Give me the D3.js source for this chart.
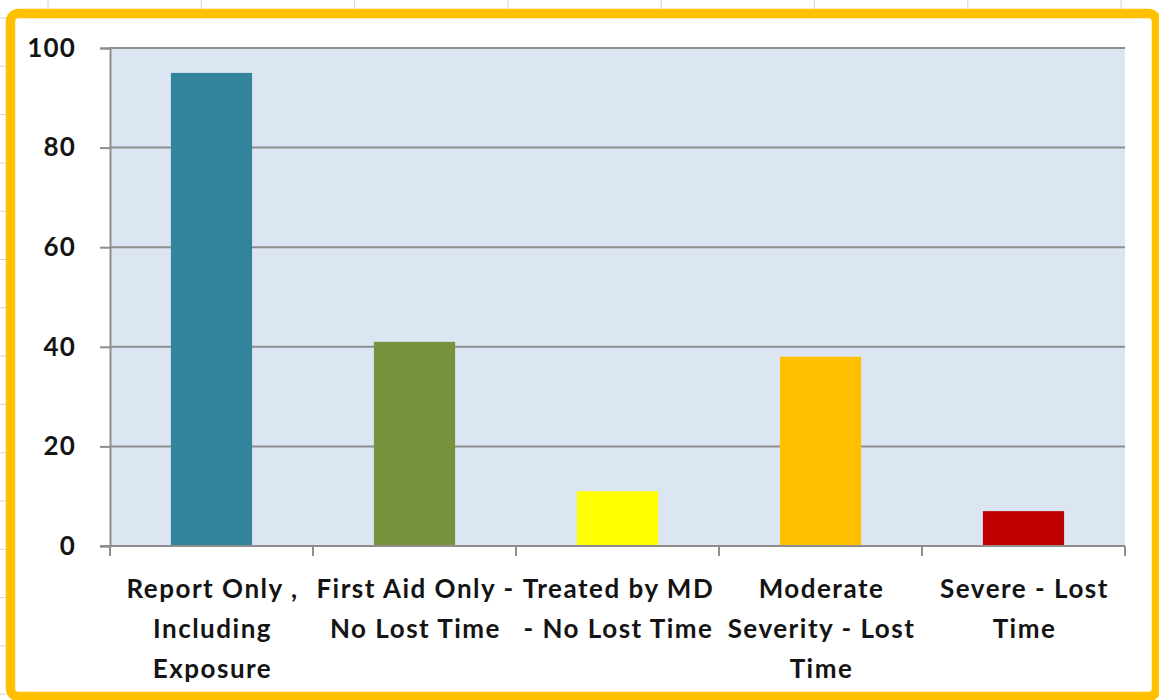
<!DOCTYPE html>
<html>
<head>
<meta charset="utf-8">
<script src="https://cdn.jsdelivr.net/npm/d3@7"></script>
<style>
  html, body { margin: 0; padding: 0; background: #ffffff; }
  svg { display: block; }
  text { font-family: Lato, "Open Sans", sans-serif; font-weight: 700; fill: #141414; }
</style>
</head>
<body>
<svg id="chart" width="1159" height="700"></svg>
<script>
// Injury counts by severity category
const categories = [
  "Report Only , Including Exposure",
  "First Aid Only - No Lost Time",
  "Treated by MD - No Lost Time",
  "Moderate Severity - Lost Time",
  "Severe - Lost Time"
];
const labelLines = [
  ["Report Only ,", "Including", "Exposure"],
  ["First Aid Only -", "No Lost Time"],
  ["Treated by MD", "- No Lost Time"],
  ["Moderate", "Severity - Lost", "Time"],
  ["Severe - Lost", "Time"]
];
const values = [95, 41, 11, 38, 7];
const barColors = ["#31849B", "#77933C", "#FFFF00", "#FFC000", "#C00000"];
const yTicks = [0, 20, 40, 60, 80, 100];

const W = 1159, H = 700;
const svg = d3.select("#chart");

// Faint sheet gridlines peeking out around the frame
const sheet = svg.append("g").attr("stroke", "#d4d4d4").attr("stroke-width", 1);
d3.range(48, W, 153.3).forEach(x => {
  sheet.append("line").attr("x1", x).attr("x2", x).attr("y1", 0).attr("y2", 10);
});
d3.range(18, H, 48.3).forEach(y => {
  sheet.append("line").attr("x1", 0).attr("x2", 6).attr("y1", y).attr("y2", y);
});

// Chart frame
svg.append("rect")
  .attr("x", 10.5).attr("y", 13.5)
  .attr("width", 1146).attr("height", 683)
  .attr("rx", 8).attr("ry", 8)
  .attr("fill", "#ffffff")
  .attr("stroke", "#FFC000")
  .attr("stroke-width", 9.5);

const plot = { left: 110, right: 1125, top: 48, bottom: 546 };

const x = d3.scaleBand()
  .domain(categories)
  .range([plot.left, plot.right])
  .paddingInner(0.6)
  .paddingOuter(0.3);

const y = d3.scaleLinear()
  .domain([0, 100])
  .range([plot.bottom, plot.top]);

// Plot area background
svg.append("rect")
  .attr("x", plot.left).attr("y", plot.top)
  .attr("width", plot.right - plot.left)
  .attr("height", plot.bottom - plot.top)
  .attr("fill", "#DCE6F2");

// Horizontal gridlines
svg.append("g")
  .selectAll("line")
  .data(yTicks.filter(d => d > 0))
  .join("line")
  .attr("x1", plot.left).attr("x2", plot.right)
  .attr("y1", d => y(d)).attr("y2", d => y(d))
  .attr("stroke", "#8e8e8e")
  .attr("stroke-width", 2);

// Bars
svg.append("g")
  .selectAll("rect")
  .data(values)
  .join("rect")
  .attr("x", (d, i) => x(categories[i]))
  .attr("width", x.bandwidth())
  .attr("y", d => y(d))
  .attr("height", d => y(0) - y(d))
  .attr("fill", (d, i) => barColors[i]);

// Y axis
const yAxis = svg.append("g")
  .attr("transform", `translate(${plot.left},0)`)
  .call(d3.axisLeft(y).tickValues(yTicks).tickSize(10).tickPadding(24));
yAxis.select(".domain").attr("stroke", "#8e8e8e").attr("stroke-width", 2);
yAxis.selectAll(".tick line").attr("stroke", "#8e8e8e").attr("stroke-width", 2);
yAxis.selectAll(".tick text")
  .style("font-size", "26px")
  .style("letter-spacing", "1.2px")
  .attr("fill", "#141414");

// X axis with ticks between categories
const step = (plot.right - plot.left) / categories.length;
const xAxisG = svg.append("g");
xAxisG.append("line")
  .attr("x1", plot.left - 10).attr("x2", plot.right)
  .attr("y1", plot.bottom).attr("y2", plot.bottom)
  .attr("stroke", "#8e8e8e").attr("stroke-width", 2);
xAxisG.selectAll("line.tick")
  .data(d3.range(categories.length + 1))
  .join("line")
  .attr("class", "tick")
  .attr("x1", i => plot.left + i * step).attr("x2", i => plot.left + i * step)
  .attr("y1", plot.bottom).attr("y2", plot.bottom + 10)
  .attr("stroke", "#8e8e8e").attr("stroke-width", 2);

// Category labels
const lbl = svg.append("g");
categories.forEach((c, i) => {
  const cx = x(c) + x.bandwidth() / 2 + 1;
  const t = lbl.append("text")
    .attr("text-anchor", "middle")
    .style("font-size", "26px")
    .style("letter-spacing", "1.5px");
  labelLines[i].forEach((line, j) => {
    t.append("tspan")
      .attr("x", cx)
      .attr("y", 598 + j * 40)
      .text(line);
  });
});
</script>
</body>
</html>
